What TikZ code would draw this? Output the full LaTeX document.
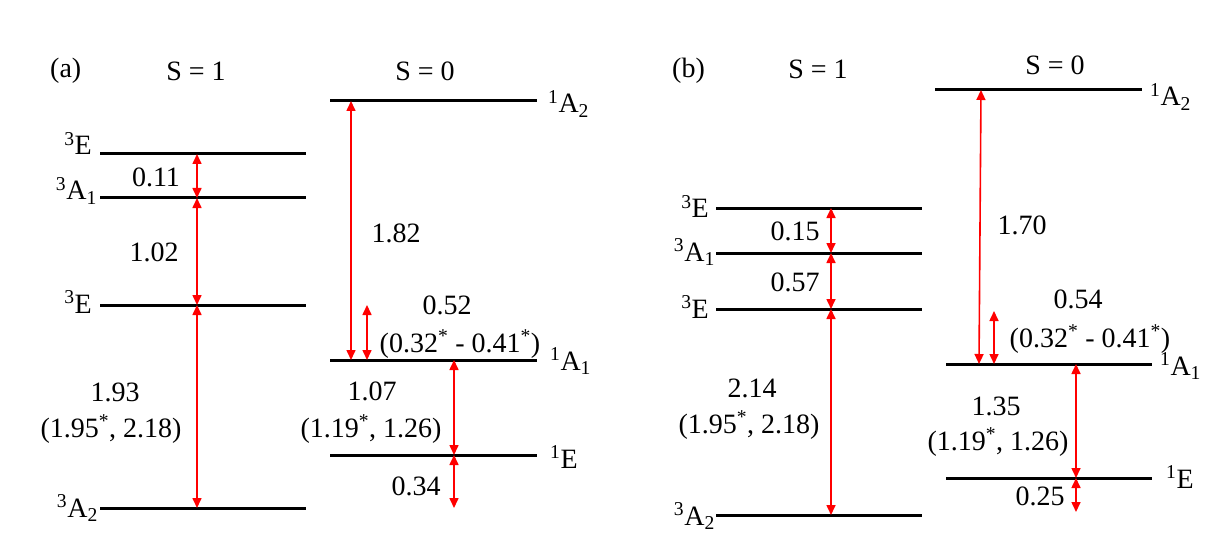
\documentclass[tikz,border=0pt]{standalone}
\usepackage{fontspec}
\setmainfont{Liberation Serif}
\usetikzlibrary{arrows.meta}
\tikzset{
  lvl/.style={line width=3pt, black},
  trans/.style={red, line width=1.6pt, {Triangle[length=10pt,width=9pt]}-{Triangle[length=10pt,width=9pt]}},
  txt/.style={font=\fontsize{28}{32}\selectfont, inner sep=0pt, anchor=base},
  stL/.style={txt, anchor=base east},
  stR/.style={txt, anchor=base west}
}
\newcommand{\mysup}[1]{\textsuperscript{#1}}
\newcommand{\mysub}[1]{\textsubscript{#1}}
\begin{document}
\begin{tikzpicture}[x=1pt,y=-1pt]
\useasboundingbox (0,0) rectangle (1220,556);
% ---------- panel (a) ----------
\node[txt, anchor=base west] (ta) at (50,78) {(a)};
\node[txt] (ta1) at (196,81) {S = 1};
\node[txt] (ta0) at (425,81) {S = 0};
% levels
\coordinate (aL1s) at (100,154); \coordinate (aL1e) at (306,154);
\coordinate (aL2s) at (100,198); \coordinate (aL2e) at (306,198);
\coordinate (aL3s) at (100,305); \coordinate (aL3e) at (306,305);
\coordinate (aL4s) at (100,508); \coordinate (aL4e) at (306,508);
\coordinate (aR1s) at (330,101); \coordinate (aR1e) at (537,101);
\coordinate (aR2s) at (330,360); \coordinate (aR2e) at (537,360);
\coordinate (aR3s) at (330,455); \coordinate (aR3e) at (537,455);
\draw[lvl] (aL1s) -- (aL1e);
\draw[lvl] (aL2s) -- (aL2e);
\draw[lvl] (aL3s) -- (aL3e);
\draw[lvl] (aL4s) -- (aL4e);
\draw[lvl] (aR1s) -- (aR1e);
\draw[lvl] (aR2s) -- (aR2e);
\draw[lvl] (aR3s) -- (aR3e);
% state labels
\node[stL] (sa1) at (92,155) {\mysup{3}E};
\node[stL] (sa2) at (97,200) {\mysup{3}A\mysub{1}};
\node[stL] (sa3) at (92,313) {\mysup{3}E};
\node[stL] (sa4) at (98,517) {\mysup{3}A\mysub{2}};
\node[stR] (sa5) at (548,113) {\mysup{1}A\mysub{2}};
\node[stR] (sa6) at (550,370) {\mysup{1}A\mysub{1}};
\node[stR] (sa7) at (550,468) {\mysup{1}E};
% arrow endpoints
\coordinate (a1t) at (197,154); \coordinate (a1b) at (197,198);
\coordinate (a2b) at (197,305); \coordinate (a3b) at (197,508);
\coordinate (a4t) at (351,101); \coordinate (a4b) at (351,360);
\coordinate (a5t) at (367,305); \coordinate (a5b) at (367,360);
\coordinate (a6t) at (454,360); \coordinate (a6b) at (454,455);
\coordinate (a7b) at (454,508);
\draw[trans] (a1t) -- (a1b);
\draw[trans] (a1b) -- (a2b);
\draw[trans] (a2b) -- (a3b);
\draw[trans] (a4t) -- (a4b);
\draw[trans] (a5t) -- (a5b);
\draw[trans] (a6t) -- (a6b);
\draw[trans] (a6b) -- (a7b);
% values
\node[txt] (va1) at (156,186) {0.11};
\node[txt] (va2) at (154,261) {1.02};
\node[txt] (va3) at (115,401) {1.93};
\node[txt] (va3b) at (111,437) {(1.95\mysup{*}, 2.18)};
\node[txt] (va4) at (396,242) {1.82};
\node[txt] (va5) at (447,314) {0.52};
\node[txt] (va5b) at (460,352) {(0.32\mysup{*} - 0.41\mysup{*})};
\node[txt] (va6) at (372,400) {1.07};
\node[txt] (va6b) at (371,437) {(1.19\mysup{*}, 1.26)};
\node[txt] (va7) at (416,495) {0.34};
% ---------- panel (b) ----------
\node[txt, anchor=base west] (tb) at (672,78) {(b)};
\node[txt] (tb1) at (818,79) {S = 1};
\node[txt] (tb0) at (1055,75) {S = 0};
\coordinate (bL1s) at (716,208); \coordinate (bL1e) at (922,208);
\coordinate (bL2s) at (716,253); \coordinate (bL2e) at (922,253);
\coordinate (bL3s) at (716,309); \coordinate (bL3e) at (922,309);
\coordinate (bL4s) at (716,515); \coordinate (bL4e) at (922,515);
\coordinate (bR1s) at (935,90);  \coordinate (bR1e) at (1142,90);
\coordinate (bR2s) at (946,364); \coordinate (bR2e) at (1152,364);
\coordinate (bR3s) at (946,478); \coordinate (bR3e) at (1152,478);
\draw[lvl] (bL1s) -- (bL1e);
\draw[lvl] (bL2s) -- (bL2e);
\draw[lvl] (bL3s) -- (bL3e);
\draw[lvl] (bL4s) -- (bL4e);
\draw[lvl] (bR1s) -- (bR1e);
\draw[lvl] (bR2s) -- (bR2e);
\draw[lvl] (bR3s) -- (bR3e);
\node[stL] (sb1) at (709,218) {\mysup{3}E};
\node[stL] (sb2) at (715,261) {\mysup{3}A\mysub{1}};
\node[stL] (sb3) at (709,318) {\mysup{3}E};
\node[stL] (sb4) at (715,525) {\mysup{3}A\mysub{2}};
\node[stR] (sb5) at (1150,106) {\mysup{1}A\mysub{2}};
\node[stR] (sb6) at (1160,375) {\mysup{1}A\mysub{1}};
\node[stR] (sb7) at (1166,488) {\mysup{1}E};
\coordinate (b1t) at (831,208); \coordinate (b1b) at (831,253);
\coordinate (b2b) at (831,309); \coordinate (b3b) at (831,515);
\coordinate (b4t) at (981,90);  \coordinate (b4b) at (979,364);
\coordinate (b5t) at (994,311); \coordinate (b5b) at (994,364);
\coordinate (b6t) at (1076,364); \coordinate (b6b) at (1076,478);
\coordinate (b7b) at (1076,512);
\draw[trans] (b1t) -- (b1b);
\draw[trans] (b1b) -- (b2b);
\draw[trans] (b2b) -- (b3b);
\draw[trans] (b4t) -- (b4b);
\draw[trans] (b5t) -- (b5b);
\draw[trans] (b6t) -- (b6b);
\draw[trans] (b6b) -- (b7b);
\node[txt] (vb1) at (795,240) {0.15};
\node[txt] (vb2) at (795,291) {0.57};
\node[txt] (vb3) at (752,397) {2.14};
\node[txt] (vb3b) at (749,433) {(1.95\mysup{*}, 2.18)};
\node[txt] (vb4) at (1022,234) {1.70};
\node[txt] (vb5) at (1078,308) {0.54};
\node[txt] (vb5b) at (1090,347) {(0.32\mysup{*} - 0.41\mysup{*})};
\node[txt] (vb6) at (996,415) {1.35};
\node[txt] (vb6b) at (998,450) {(1.19\mysup{*}, 1.26)};
\node[txt] (vb7) at (1040,505) {0.25};
\end{tikzpicture}
\end{document}
